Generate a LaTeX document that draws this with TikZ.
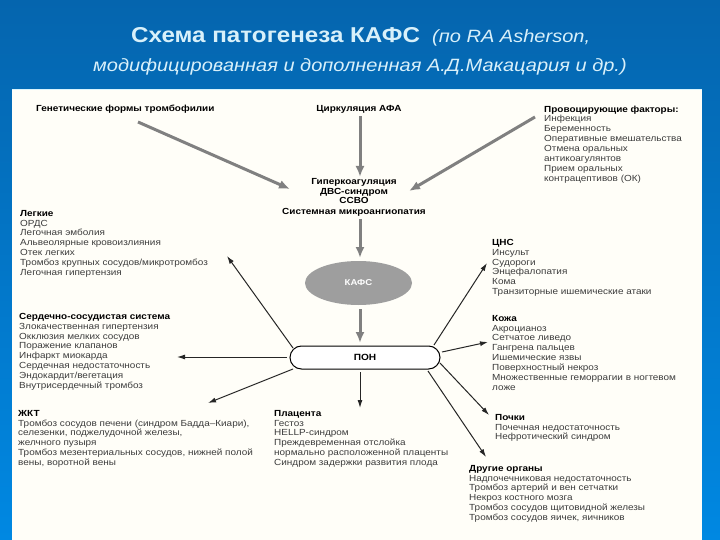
\documentclass[tikz,border=0pt]{standalone}
\usepackage{fontspec}
\setmainfont{Liberation Sans}[FakeStretch=1.125]
\usetikzlibrary{arrows.meta,shapes.misc,shapes.geometric}
\definecolor{slideblue}{HTML}{0565AE}
\definecolor{slidelight}{HTML}{0088E2}
\definecolor{titletext}{HTML}{D8F0FA}
\definecolor{bodytext}{HTML}{3C3C3C}
\definecolor{panelcream}{HTML}{FFFEF8}
\tikzset{
 listbox/.style={anchor=north west,yshift=-1.5pt,inner sep=0pt,align=left,text=bodytext,font=\fontsize{8.85}{9.85}\selectfont},
 headbox/.style={inner sep=0pt,align=center,text=black,font=\fontsize{8.85}{9.85}\selectfont\bfseries},
 greyarrow/.style={draw=black!50,line width=3pt,-{Latex[length=11pt,width=9pt]}},
 blackarrow/.style={draw=black!85,line width=1pt,-{Latex[length=8pt,width=5pt]}},
 titleline/.style={inner sep=0pt,anchor=base west,text=titletext}
}
\newcommand{\hd}[1]{{\color{black}\bfseries #1}}
\begin{document}
\begin{tikzpicture}[x=1pt,y=-1pt]
 	\useasboundingbox (0,0) rectangle (720,540);
 	\shade [top color=slideblue,bottom color=slidelight] (0,0) rectangle (720,540);
 	\fill [panelcream] (12,90) rectangle (702,540);
 	\draw [cyan!15,line width=1pt] (12,90) -- (702,90);
 	\node [titleline,font=\fontsize{21.5}{24}\selectfont\bfseries] (title) at (131,43) {Схема патогенеза КАФС};
 	\node [titleline,font=\fontsize{17.8}{20}\selectfont\itshape] (titleref) at (432,43) {(по RA Asherson,};
 	\node [titleline,font=\fontsize{17.8}{20}\selectfont\itshape] (subtitle) at (93,72) {модифицированная и дополненная А.Д.Макацария и др.)};

 	\node [headbox,anchor=west] (genetic) at (36,109) {Генетические формы тромбофилии};
 	\node [headbox] (afa) at (359,109) {Циркуляция АФА};
 	\node [listbox] (factors) at (544,104) {\hd{Провоцирующие факторы:}\\Инфекция\\Беременность\\Оперативные вмешательства\\Отмена оральных\\антикоагулянтов\\Прием оральных\\контрацептивов (ОК)};
 	\node [headbox] (hyper) at (354,191) {Гиперкоагуляция\\ДВС-синдром\\ССВО};
 	\node [headbox] (micro) at (354,212) {Системная микроангиопатия};
 	\node [ellipse,fill=black!38,minimum width=107pt,minimum height=44pt,inner sep=0pt,text=white,font=\fontsize{8.5}{9}\selectfont\bfseries] (kafs) at (358.5,283) {КАФС};
 	\node [rounded rectangle,draw=black,line width=1pt,fill=white,minimum width=150pt,minimum height=23pt,inner sep=0pt,font=\fontsize{9}{9}\selectfont\bfseries] (pon) at (365,357.5) {ПОН};

 	\node [listbox] (lungs) at (20,208.5) {\hd{Легкие}\\ОРДС\\Легочная эмболия\\Альвеолярные кровоизлияния\\Отек легких\\Тромбоз крупных сосудов/микротромбоз\\Легочная гипертензия};
 	\node [listbox] (heart) at (19,311.5) {\hd{Сердечно-сосудистая система}\\Злокачественная гипертензия\\Окклюзия мелких сосудов\\Поражение клапанов\\Инфаркт миокарда\\Сердечная недостаточность\\Эндокардит/вегетация\\Внутрисердечный тромбоз};
 	\node [listbox] (gut) at (18,408.5) {\hd{ЖКТ}\\Тромбоз сосудов печени (синдром Бадда--Киари),\\селезенки, поджелудочной железы,\\желчного пузыря\\Тромбоз мезентериальных сосудов, нижней полой\\вены, воротной вены};
 	\node [listbox] (placenta) at (274,408.5) {\hd{Плацента}\\Гестоз\\HELLP-синдром\\Преждевременная отслойка\\нормально расположенной плаценты\\Синдром задержки развития плода};
 	\node [listbox] (cns) at (492,237.5) {\hd{ЦНС}\\Инсульт\\Судороги\\Энцефалопатия\\Кома\\Транзиторные ишемические атаки};
 	\node [listbox] (skin) at (492,313.5) {\hd{Кожа}\\Акроцианоз\\Сетчатое ливедо\\Гангрена пальцев\\Ишемические язвы\\Поверхностный некроз\\Множественные геморрагии в ногтевом\\ложе};
 	\node [listbox] (kidney) at (495,412.5) {\hd{Почки}\\Почечная недостаточность\\Нефротический синдром};
 	\node [listbox] (other) at (469,463.5) {\hd{Другие органы}\\Надпочечниковая недостаточность\\Тромбоз артерий и вен сетчатки\\Некроз костного мозга\\Тромбоз сосудов щитовидной железы\\Тромбоз сосудов яичек, яичников};

 	\coordinate (geneticout) at (138,122);
 	\coordinate (geneticin) at (290,189);
 	\coordinate (afaout) at (360,116);
 	\coordinate (afain) at (360,177);
 	\coordinate (factorsout) at (535,117);
 	\coordinate (factorsin) at (409,191);
 	\coordinate (microout) at (360,219);
 	\coordinate (microin) at (360,258);
 	\coordinate (kafsout) at (360,309);
 	\coordinate (kafsin) at (360,343);
 	\coordinate (lungsout) at (293,348);
 	\coordinate (heartout) at (287,357);
 	\coordinate (gutout) at (293,369);
 	\coordinate (placentaout) at (360,372);
 	\coordinate (cnsout) at (434,345);
 	\coordinate (skinout) at (442,352);
 	\coordinate (kidneyout) at (440,363);
 	\coordinate (otherout) at (428,371);
 	\coordinate (tolungs) at (227,256);
 	\coordinate (toheart) at (177,357);
 	\coordinate (togut) at (208,403);
 	\coordinate (toplacenta) at (360,408);
 	\coordinate (tocns) at (487,263);
 	\coordinate (toskin) at (488,342);
 	\coordinate (tokidney) at (489,415);
 	\coordinate (toother) at (486,457);

 	\draw [greyarrow] (geneticout) -- (geneticin);
 	\draw [greyarrow] (afaout) -- (afain);
 	\draw [greyarrow] (factorsout) -- (factorsin);
 	\draw [greyarrow] (microout) -- (microin);
 	\draw [greyarrow] (kafsout) -- (kafsin);
 	\draw [blackarrow] (lungsout) -- (tolungs);
 	\draw [blackarrow] (heartout) -- (toheart);
 	\draw [blackarrow] (gutout) -- (togut);
 	\draw [blackarrow] (placentaout) -- (toplacenta);
 	\draw [blackarrow] (cnsout) -- (tocns);
 	\draw [blackarrow] (skinout) -- (toskin);
 	\draw [blackarrow] (kidneyout) -- (tokidney);
 	\draw [blackarrow] (otherout) -- (toother);
\end{tikzpicture}
\end{document}
